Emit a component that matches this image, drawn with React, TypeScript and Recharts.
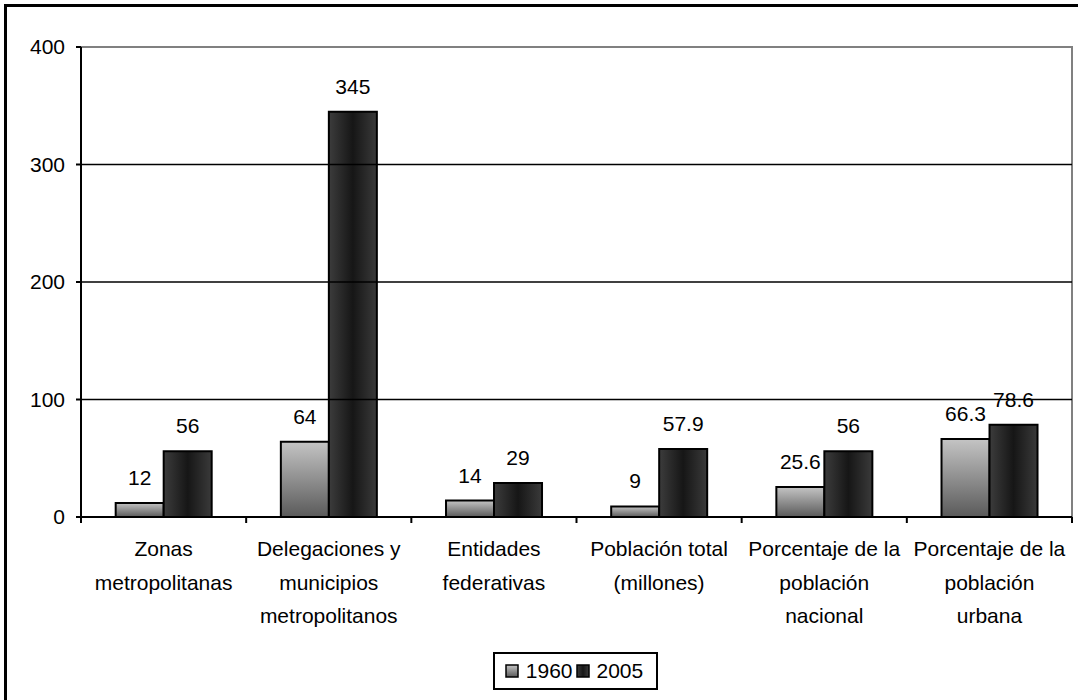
import React from "react";
import {
  BarChart,
  Bar,
  XAxis,
  YAxis,
  ReferenceLine,
  ReferenceArea,
  LabelList,
} from "recharts";

// Category labels, already broken into the lines used in the original chart
const CATEGORIES: string[][] = [
  ["Zonas", "metropolitanas"],
  ["Delegaciones y", "municipios", "metropolitanos"],
  ["Entidades", "federativas"],
  ["Población total", "(millones)"],
  ["Porcentaje de la", "población", "nacional"],
  ["Porcentaje de la", "población", "urbana"],
];

const VALUES_1960 = [12, 64, 14, 9, 25.6, 66.3];
const VALUES_2005 = [56, 345, 29, 57.9, 56, 78.6];

const Y_TICKS = [0, 100, 200, 300, 400];
const GRID_LINES = [100, 200, 300];

const FONT = "'Liberation Sans', Arial, sans-serif";
const FONT_SIZE = 21;

const data = CATEGORIES.map((lines, i) => ({
  key: lines.join(" "),
  lines,
  y1960: VALUES_1960[i],
  y2005: VALUES_2005[i],
}));

// plot box
const W = 1078;
const H = 700;
const PLOT_LEFT = 81;
const PLOT_RIGHT = 1072;
const BAND = (PLOT_RIGHT - PLOT_LEFT) / CATEGORIES.length;

// category label, with the tick marks sitting on the band boundaries
function CategoryTick(props: any) {
  const { x, y, payload, index } = props;
  const lines: string[] = data[index]?.lines ?? [String(payload.value)];
  return (
    <g>
      <line x1={x - BAND / 2} x2={x - BAND / 2} y1={y} y2={y + 6} stroke="#000" strokeWidth={2} />
      {index === CATEGORIES.length - 1 && (
        <line x1={x + BAND / 2} x2={x + BAND / 2} y1={y} y2={y + 6} stroke="#000" strokeWidth={2} />
      )}
      <text textAnchor="middle" fontFamily={FONT} fontSize={FONT_SIZE} fill="#000">
        {lines.map((l, i) => (
          <tspan key={i} x={x} y={y + 39 + i * 33.5}>
            {l}
          </tspan>
        ))}
      </text>
    </g>
  );
}

function LegendBox() {
  const item = (grad: string, label: string) => (
    <span style={{ display: "inline-flex", alignItems: "center", marginRight: 3 }}>
      <svg width={14} height={14} style={{ marginRight: 7 }}>
        <rect x={1} y={1} width={12} height={12} fill={`url(#${grad})`} stroke="#000" strokeWidth={1.5} />
      </svg>
      {label}
    </span>
  );
  return (
    <div
      style={{
        position: "absolute",
        left: 493,
        top: 652,
        border: "2px solid #000",
        width: 161,
        height: 34,
        display: "flex",
        alignItems: "center",
        justifyContent: "center",
        fontFamily: FONT,
        fontSize: FONT_SIZE,
        color: "#000",
        background: "#fff",
      }}
    >
      {item("g1960", "1960")}
      {item("g2005", "2005")}
    </div>
  );
}

export default function App() {
  return (
    <div style={{ position: "absolute", left: 0, top: 0, width: W, height: H, background: "#fff", overflow: "hidden" }}>
      {/* outer chart frame, only left/top edges are visible in the original */}
      <div
        style={{
          position: "absolute",
          left: 4,
          top: 4,
          width: W,
          height: H,
          borderLeft: "3px solid #000",
          borderTop: "3px solid #000",
        }}
      />
      <BarChart
        width={W}
        height={H}
        data={data}
        margin={{ top: 47, right: W - PLOT_RIGHT, bottom: 63, left: 0 }}
        barCategoryGap="21%"
        barGap={0}
        style={{ position: "absolute", left: 0, top: 0 }}
      >
        <defs>
          <linearGradient id="g1960" x1="0" y1="0" x2="0" y2="1">
            <stop offset="0%" stopColor="#c4c4c4" />
            <stop offset="100%" stopColor="#5a5a5a" />
          </linearGradient>
          <linearGradient id="g2005" x1="0" y1="0" x2="1" y2="0">
            <stop offset="0%" stopColor="#3c3c3c" />
            <stop offset="50%" stopColor="#161616" />
            <stop offset="100%" stopColor="#3a3a3a" />
          </linearGradient>
        </defs>

        {/* gray plot frame */}
        <ReferenceArea y1={0} y2={400} fill="none" stroke="#808080" strokeWidth={2} ifOverflow="visible" />
        {GRID_LINES.map((v) => (
          <ReferenceLine key={v} y={v} stroke="#000" strokeWidth={1.5} />
        ))}

        <XAxis
          dataKey="key"
          height={120}
          interval={0}
          axisLine={{ stroke: "#000", strokeWidth: 2 }}
          tickLine={false}
          tickSize={0}
          tickMargin={0}
          tick={<CategoryTick />}
        />
        <YAxis
          width={PLOT_LEFT}
          domain={[0, 400]}
          ticks={Y_TICKS}
          interval={0}
          axisLine={{ stroke: "#000", strokeWidth: 2 }}
          tickLine={{ stroke: "#000", strokeWidth: 2 }}
          tickSize={5}
          tickMargin={11}
          tick={{ fontFamily: FONT, fontSize: FONT_SIZE, fill: "#000" }}
        />

        <Bar dataKey="y1960" name="1960" fill="url(#g1960)" stroke="#000" strokeWidth={2} isAnimationActive={false}>
          <LabelList dataKey="y1960" position="top" offset={18} fontFamily={FONT} fontSize={FONT_SIZE} fill="#000" />
        </Bar>
        <Bar dataKey="y2005" name="2005" fill="url(#g2005)" stroke="#000" strokeWidth={2} isAnimationActive={false}>
          <LabelList dataKey="y2005" position="top" offset={18} fontFamily={FONT} fontSize={FONT_SIZE} fill="#000" />
        </Bar>
      </BarChart>
      <LegendBox />
    </div>
  );
}
